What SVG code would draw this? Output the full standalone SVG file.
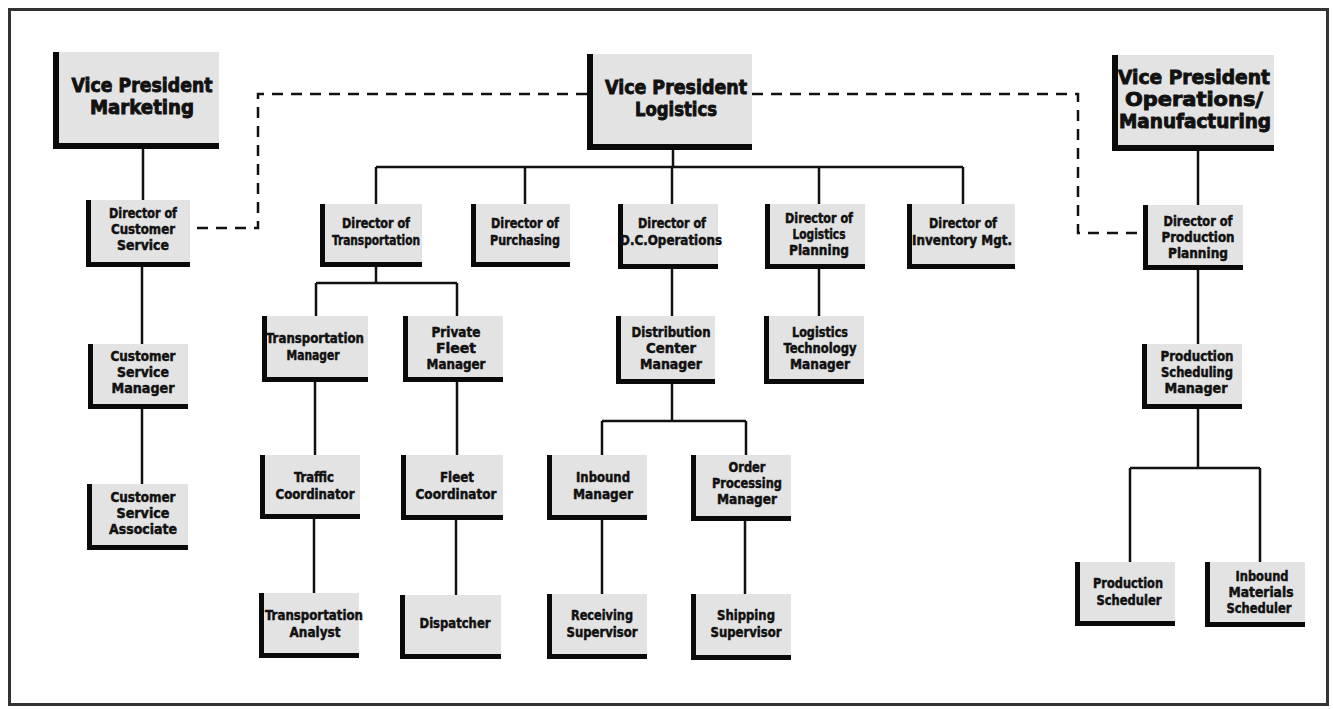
<svg xmlns="http://www.w3.org/2000/svg" width="1333" height="709" viewBox="0 0 1333 709">
<style>
.box{fill:#e3e3e3}
.bar{fill:#0a0a0a}
.t{font-family:"DejaVu Sans Condensed","DejaVu Sans","Liberation Sans",sans-serif;font-weight:bold;font-size:13.5px;fill:#111;stroke:#111;stroke-width:0.45;text-anchor:middle}
.b{font-size:19px;stroke-width:0.8}
.c{stroke:#111;stroke-width:2.5;fill:none}
.d{stroke:#111;stroke-width:2.5;fill:none;stroke-dasharray:11 8}
</style>
<rect x="0" y="0" width="1333" height="709" fill="#ffffff"/>
<rect x="9.5" y="9.5" width="1318" height="695" fill="none" stroke="#333" stroke-width="3"/>

<g id="connectors">
<path class="c" d="M143 149V200M142 267V344M142 409V484"/>
<path class="c" d="M673 150V167M376 167H963M376 167V204M525 167V204M672 167V204M819 167V204M963 167V204"/>
<path class="c" d="M376 267V283M316 283H457M316 283V316M457 283V316"/>
<path class="c" d="M315 382V455M314 519V593M457 382V455M456 520V595"/>
<path class="c" d="M672 269V316M672 384V421M602 421H746M602 421V455M746 421V455M602 520V594M745 521V594"/>
<path class="c" d="M819 269V316"/>
<path class="c" d="M1198 151V205M1198 270V344M1198 409V468M1130 468H1260M1130 468V562M1260 468V562"/>
<path class="d" d="M587 94H258V228H192"/>
<path class="d" d="M752 94H1078V233H1143"/>
</g>

<g id="vp-marketing">
<rect class="box" x="59" y="52" width="160" height="91"/>
<path class="bar" d="M53 52H59V143H219V149H53Z"/>
<text class="t b" x="142" y="92" textLength="141" lengthAdjust="spacingAndGlyphs">Vice President</text>
<text class="t b" x="142" y="114" textLength="104" lengthAdjust="spacingAndGlyphs">Marketing</text>
</g>

<g id="vp-logistics">
<rect class="box" x="593" y="54" width="159" height="90"/>
<path class="bar" d="M587 54H593V144H752V150H587Z"/>
<text class="t b" x="676" y="94" textLength="142" lengthAdjust="spacingAndGlyphs">Vice President</text>
<text class="t b" x="676" y="116" textLength="82" lengthAdjust="spacingAndGlyphs">Logistics</text>
</g>

<g id="vp-operations">
<rect class="box" x="1118" y="55" width="156" height="90"/>
<path class="bar" d="M1112 55H1118V145H1274V151H1112Z"/>
<text class="t b" x="1194" y="84" textLength="152" lengthAdjust="spacingAndGlyphs">Vice President</text>
<text class="t b" x="1194" y="106" textLength="138" lengthAdjust="spacingAndGlyphs">Operations/</text>
<text class="t b" x="1195" y="128" textLength="152" lengthAdjust="spacingAndGlyphs">Manufacturing</text>
</g>

<g id="dir-customer-service">
<rect class="box" x="91" y="200" width="99" height="62"/>
<path class="bar" d="M86 200H91V262H190V267H86Z"/>
<text class="t" x="143" y="218" textLength="68" lengthAdjust="spacingAndGlyphs">Director of</text>
<text class="t" x="143" y="234" textLength="64" lengthAdjust="spacingAndGlyphs">Customer</text>
<text class="t" x="143" y="250" textLength="52" lengthAdjust="spacingAndGlyphs">Service</text>
</g>

<g id="customer-service-manager">
<rect class="box" x="93" y="344" width="95" height="60"/>
<path class="bar" d="M88 344H93V404H188V409H88Z"/>
<text class="t" x="143" y="361" textLength="65" lengthAdjust="spacingAndGlyphs">Customer</text>
<text class="t" x="143" y="377" textLength="52" lengthAdjust="spacingAndGlyphs">Service</text>
<text class="t" x="143" y="393" textLength="63" lengthAdjust="spacingAndGlyphs">Manager</text>
</g>

<g id="customer-service-associate">
<rect class="box" x="92" y="484" width="96" height="61"/>
<path class="bar" d="M87 484H92V545H188V550H87Z"/>
<text class="t" x="143" y="502" textLength="65" lengthAdjust="spacingAndGlyphs">Customer</text>
<text class="t" x="143" y="518" textLength="53" lengthAdjust="spacingAndGlyphs">Service</text>
<text class="t" x="143" y="534" textLength="68" lengthAdjust="spacingAndGlyphs">Associate</text>
</g>

<g id="dir-transportation">
<rect class="box" x="325" y="204" width="97" height="58"/>
<path class="bar" d="M320 204H325V262H422V267H320Z"/>
<text class="t" x="376" y="228" textLength="68" lengthAdjust="spacingAndGlyphs">Director of</text>
<text class="t" x="376" y="244.5" textLength="88" lengthAdjust="spacingAndGlyphs">Transportation</text>
</g>

<g id="dir-purchasing">
<rect class="box" x="476" y="204" width="94" height="58"/>
<path class="bar" d="M471 204H476V262H570V267H471Z"/>
<text class="t" x="525" y="228" textLength="68" lengthAdjust="spacingAndGlyphs">Director of</text>
<text class="t" x="525" y="244.5" textLength="70" lengthAdjust="spacingAndGlyphs">Purchasing</text>
</g>

<g id="dir-dc-operations">
<rect class="box" x="623" y="204" width="95" height="60"/>
<path class="bar" d="M618 204H623V264H718V269H618Z"/>
<text class="t" x="672" y="228" textLength="68" lengthAdjust="spacingAndGlyphs">Director of</text>
<text class="t" x="671" y="245" textLength="102" lengthAdjust="spacingAndGlyphs">D.C.Operations</text>
</g>

<g id="dir-logistics-planning">
<rect class="box" x="770" y="204" width="95" height="60"/>
<path class="bar" d="M765 204H770V264H865V269H765Z"/>
<text class="t" x="819" y="223" textLength="68" lengthAdjust="spacingAndGlyphs">Director of</text>
<text class="t" x="819" y="239" textLength="53" lengthAdjust="spacingAndGlyphs">Logistics</text>
<text class="t" x="819" y="255" textLength="60" lengthAdjust="spacingAndGlyphs">Planning</text>
</g>

<g id="dir-inventory">
<rect class="box" x="912" y="204" width="103" height="60"/>
<path class="bar" d="M907 204H912V264H1015V269H907Z"/>
<text class="t" x="963" y="228" textLength="68" lengthAdjust="spacingAndGlyphs">Director of</text>
<text class="t" x="962" y="245" textLength="100" lengthAdjust="spacingAndGlyphs">Inventory Mgt.</text>
</g>

<g id="transportation-manager">
<rect class="box" x="267" y="316" width="101" height="61"/>
<path class="bar" d="M262 316H267V377H368V382H262Z"/>
<text class="t" x="315" y="343" textLength="98" lengthAdjust="spacingAndGlyphs">Transportation</text>
<text class="t" x="313" y="360" textLength="53" lengthAdjust="spacingAndGlyphs">Manager</text>
</g>

<g id="private-fleet-manager">
<rect class="box" x="408" y="316" width="95" height="61"/>
<path class="bar" d="M403 316H408V377H503V382H403Z"/>
<text class="t" x="456" y="337" textLength="49" lengthAdjust="spacingAndGlyphs">Private</text>
<text class="t" x="456" y="353" textLength="40" lengthAdjust="spacingAndGlyphs">Fleet</text>
<text class="t" x="456" y="369" textLength="59" lengthAdjust="spacingAndGlyphs">Manager</text>
</g>

<g id="traffic-coordinator">
<rect class="box" x="265" y="455" width="95" height="59"/>
<path class="bar" d="M260 455H265V514H360V519H260Z"/>
<text class="t" x="314" y="482" textLength="40" lengthAdjust="spacingAndGlyphs">Traffic</text>
<text class="t" x="315" y="498.5" textLength="79" lengthAdjust="spacingAndGlyphs">Coordinator</text>
</g>

<g id="fleet-coordinator">
<rect class="box" x="406" y="455" width="97" height="60"/>
<path class="bar" d="M401 455H406V515H503V520H401Z"/>
<text class="t" x="457" y="482" textLength="34" lengthAdjust="spacingAndGlyphs">Fleet</text>
<text class="t" x="456" y="498.5" textLength="81" lengthAdjust="spacingAndGlyphs">Coordinator</text>
</g>

<g id="transportation-analyst">
<rect class="box" x="264" y="593" width="95" height="60"/>
<path class="bar" d="M259 593H264V653H359V658H259Z"/>
<text class="t" x="314" y="620" textLength="98" lengthAdjust="spacingAndGlyphs">Transportation</text>
<text class="t" x="315" y="636.5" textLength="51" lengthAdjust="spacingAndGlyphs">Analyst</text>
</g>

<g id="dispatcher">
<rect class="box" x="405" y="595" width="96" height="59"/>
<path class="bar" d="M400 595H405V654H501V659H400Z"/>
<text class="t" x="455" y="628" textLength="71" lengthAdjust="spacingAndGlyphs">Dispatcher</text>
</g>

<g id="distribution-center-manager">
<rect class="box" x="621" y="316" width="94" height="63"/>
<path class="bar" d="M616 316H621V379H715V384H616Z"/>
<text class="t" x="671" y="337" textLength="79" lengthAdjust="spacingAndGlyphs">Distribution</text>
<text class="t" x="671" y="353" textLength="50" lengthAdjust="spacingAndGlyphs">Center</text>
<text class="t" x="671" y="369" textLength="62" lengthAdjust="spacingAndGlyphs">Manager</text>
</g>

<g id="logistics-technology-manager">
<rect class="box" x="769" y="316" width="95" height="63"/>
<path class="bar" d="M764 316H769V379H864V384H764Z"/>
<text class="t" x="820" y="337" textLength="56" lengthAdjust="spacingAndGlyphs">Logistics</text>
<text class="t" x="820" y="353" textLength="73" lengthAdjust="spacingAndGlyphs">Technology</text>
<text class="t" x="820" y="369" textLength="60" lengthAdjust="spacingAndGlyphs">Manager</text>
</g>

<g id="inbound-manager">
<rect class="box" x="552" y="455" width="95" height="60"/>
<path class="bar" d="M547 455H552V515H647V520H547Z"/>
<text class="t" x="603" y="482" textLength="54" lengthAdjust="spacingAndGlyphs">Inbound</text>
<text class="t" x="603" y="498.5" textLength="60" lengthAdjust="spacingAndGlyphs">Manager</text>
</g>

<g id="order-processing-manager">
<rect class="box" x="696" y="455" width="95" height="61"/>
<path class="bar" d="M691 455H696V516H791V521H691Z"/>
<text class="t" x="747" y="472" textLength="37" lengthAdjust="spacingAndGlyphs">Order</text>
<text class="t" x="747" y="488" textLength="70" lengthAdjust="spacingAndGlyphs">Processing</text>
<text class="t" x="747" y="504" textLength="60" lengthAdjust="spacingAndGlyphs">Manager</text>
</g>

<g id="receiving-supervisor">
<rect class="box" x="552" y="594" width="95" height="60"/>
<path class="bar" d="M547 594H552V654H647V659H547Z"/>
<text class="t" x="602" y="620" textLength="62" lengthAdjust="spacingAndGlyphs">Receiving</text>
<text class="t" x="602" y="636.5" textLength="71" lengthAdjust="spacingAndGlyphs">Supervisor</text>
</g>

<g id="shipping-supervisor">
<rect class="box" x="696" y="594" width="95" height="61"/>
<path class="bar" d="M691 594H696V655H791V660H691Z"/>
<text class="t" x="746" y="620" textLength="58" lengthAdjust="spacingAndGlyphs">Shipping</text>
<text class="t" x="746" y="636.5" textLength="71" lengthAdjust="spacingAndGlyphs">Supervisor</text>
</g>

<g id="dir-production-planning">
<rect class="box" x="1148" y="205" width="95" height="60"/>
<path class="bar" d="M1143 205H1148V265H1243V270H1143Z"/>
<text class="t" x="1198" y="226" textLength="69" lengthAdjust="spacingAndGlyphs">Director of</text>
<text class="t" x="1198" y="242" textLength="73" lengthAdjust="spacingAndGlyphs">Production</text>
<text class="t" x="1198" y="258" textLength="60" lengthAdjust="spacingAndGlyphs">Planning</text>
</g>

<g id="production-scheduling-manager">
<rect class="box" x="1147" y="344" width="95" height="60"/>
<path class="bar" d="M1142 344H1147V404H1242V409H1142Z"/>
<text class="t" x="1197" y="361" textLength="73" lengthAdjust="spacingAndGlyphs">Production</text>
<text class="t" x="1197" y="377" textLength="72" lengthAdjust="spacingAndGlyphs">Scheduling</text>
<text class="t" x="1196" y="393" textLength="63" lengthAdjust="spacingAndGlyphs">Manager</text>
</g>

<g id="production-scheduler">
<rect class="box" x="1080" y="562" width="95" height="59"/>
<path class="bar" d="M1075 562H1080V621H1175V626H1075Z"/>
<text class="t" x="1128" y="588" textLength="70" lengthAdjust="spacingAndGlyphs">Production</text>
<text class="t" x="1129" y="604.5" textLength="65" lengthAdjust="spacingAndGlyphs">Scheduler</text>
</g>

<g id="inbound-materials-scheduler">
<rect class="box" x="1210" y="562" width="95" height="60"/>
<path class="bar" d="M1205 562H1210V622H1305V627H1205Z"/>
<text class="t" x="1262" y="581" textLength="53" lengthAdjust="spacingAndGlyphs">Inbound</text>
<text class="t" x="1261" y="597" textLength="65" lengthAdjust="spacingAndGlyphs">Materials</text>
<text class="t" x="1259" y="613" textLength="65" lengthAdjust="spacingAndGlyphs">Scheduler</text>
</g>
</svg>
